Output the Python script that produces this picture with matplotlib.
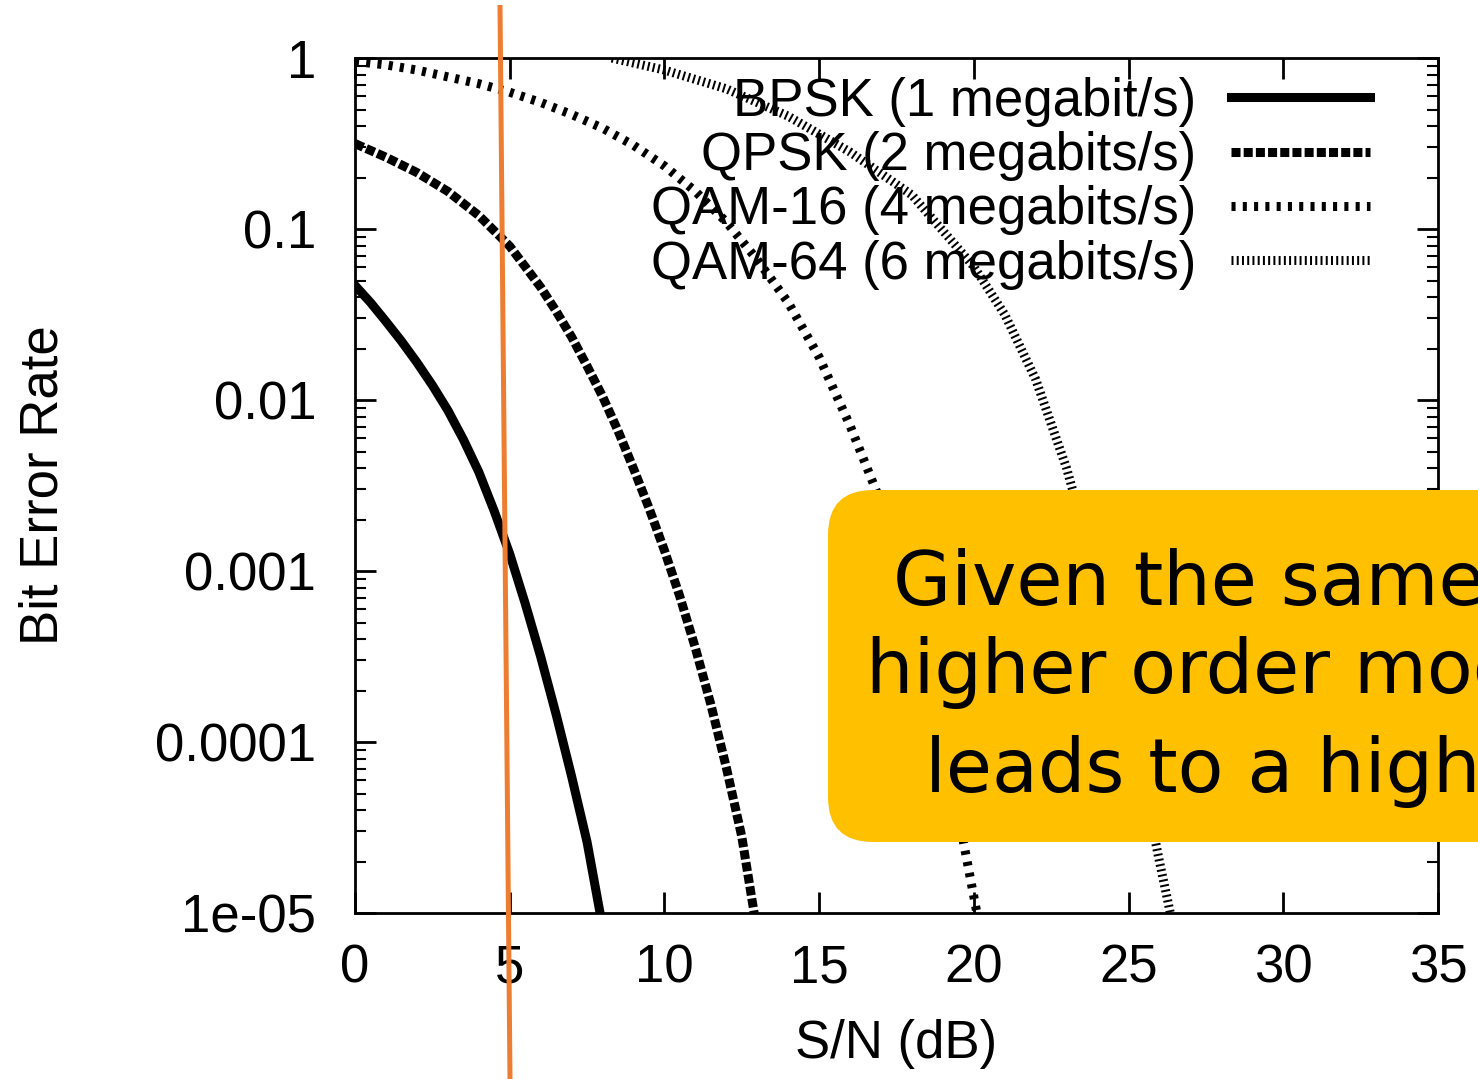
import matplotlib.pyplot as plt
from matplotlib.patches import FancyBboxPatch

# values (S/N in dB, bit error rate)
snr_bpsk = [0, 0.5, 1, 1.5, 2, 2.5, 3, 3.5, 4, 4.5, 5, 5.5, 6, 6.5, 7, 7.5, 7.92]
ber_bpsk = [0.0468, 0.0372, 0.0288, 0.0221, 0.0166, 0.0122, 0.00871, 0.00589,
            0.00380, 0.00224, 0.00126, 0.000646, 0.000316, 0.000145, 6.3e-5,
            2.6e-5, 1e-5]

snr_qpsk = [0, 1, 2, 3, 4, 5, 6, 6.5, 7, 7.5, 8, 8.5, 9, 9.5, 10, 10.5, 11,
            11.5, 12, 12.5, 12.9]
ber_qpsk = [0.316, 0.263, 0.214, 0.166, 0.120, 0.0794, 0.0457, 0.0331, 0.0234,
            0.0158, 0.0105, 0.00661, 0.00398, 0.00234, 0.00132, 0.000708,
            0.000355, 0.000166, 7.1e-5, 2.8e-5, 1e-5]

snr_qam16 = [0, 1, 2, 3, 4, 5, 6, 7, 8, 9, 10, 11, 12, 13, 14, 15, 16, 17, 18, 19, 20.1]
ber_qam16 = [0.955, 0.912, 0.851, 0.776, 0.708, 0.631, 0.550, 0.468, 0.389, 0.309,
             0.234, 0.166, 0.110, 0.0661, 0.0372, 0.0178, 0.00708, 0.00251, 0.000631,
             0.000112, 1e-5]

snr_qam64 = [8.3, 10, 12, 14, 16, 18, 20, 21, 22, 23, 24, 25, 26, 26.35]
ber_qam64 = [1.0, 0.851, 0.661, 0.457, 0.282, 0.158, 0.0603, 0.0316, 0.0132,
             0.00398, 0.000891, 0.000158, 2.0e-5, 1e-5]

labels = ["BPSK (1 megabit/s)", "QPSK (2 megabits/s)",
          "QAM-16 (4 megabits/s)", "QAM-64 (6 megabits/s)"]

yticks = [1e-5, 1e-4, 1e-3, 1e-2, 1e-1, 1]
ytick_labels = ["1e-05", "0.0001", "0.001", "0.01", "0.1", "1"]
xticks = [0, 5, 10, 15, 20, 25, 30, 35]

note_lines = ["Given the same S/N, a", "higher order modulation", "leads to a higher BER"]

plt.rcParams['font.family'] = ['Liberation Sans', 'DejaVu Sans']

fig = plt.figure(figsize=(14.78, 10.79), dpi=100)
ax = fig.add_axes([0.2402, 0.1538, 0.7327, 0.7924])

lw = 6.5
ax.plot(snr_bpsk, ber_bpsk, color='black', lw=lw, label=labels[0])
ax.plot(snr_qpsk, ber_qpsk, color='black', lw=lw, dashes=(1.0, 0.35),
        dash_capstyle='butt', label=labels[1])
ax.plot(snr_qam16, ber_qam16, color='black', lw=lw, dashes=(0.45, 0.8),
        dash_capstyle='butt', label=labels[2])
ax.plot(snr_qam64, ber_qam64, color='black', lw=lw, dashes=(0.22, 0.36),
        dash_capstyle='butt', label=labels[3])

ax.set_yscale('log')
ax.set_xlim(0, 35)
ax.set_ylim(1e-5, 1)
ax.set_yticks(yticks)
ax.set_yticklabels(ytick_labels)
ax.set_xticks(xticks)
ax.tick_params(which='major', direction='in', length=15, width=2,
               top=True, right=True, labelsize=38)
ax.tick_params(axis='y', which='major', pad=28)
ax.tick_params(axis='x', which='major', pad=22)
ax.tick_params(which='minor', direction='in', length=8, width=1.5,
               top=True, right=True)
for s in ax.spines.values():
    s.set_linewidth(2)

ax.set_xlabel("S/N (dB)", fontsize=38, labelpad=18)
ax.set_ylabel("Bit Error Rate", fontsize=38, labelpad=62)

ax.legend(loc='upper right', bbox_to_anchor=(0.937, 0.978), frameon=False,
          markerfirst=False, fontsize=38, handlelength=2.62, handletextpad=0.66,
          labelspacing=0.08, borderpad=0, borderaxespad=0)

# overlay in pixel units for the annotation box and the orange marker line
ov = fig.add_axes([0, 0, 1, 1], zorder=10)
ov.set_xlim(0, 1478)
ov.set_ylim(1079, 0)
ov.axis('off')
ov.patch.set_alpha(0)

box = FancyBboxPatch((828, 490), 760, 352, boxstyle="round,pad=0,rounding_size=45",
                     facecolor='#FFC000', edgecolor='none')
ov.add_patch(box)
note_font = dict(fontsize=54, family='DejaVu Sans', va='baseline', ha='left')
ov.text(893, 605, note_lines[0], **note_font)
ov.text(866, 693, note_lines[1], **note_font)
ov.text(925, 792, note_lines[2], **note_font)

ov.plot([500, 510], [5, 1079], color='#ED7D31', lw=3.6, solid_capstyle='butt')

fig.savefig("out.png", dpi=100)
